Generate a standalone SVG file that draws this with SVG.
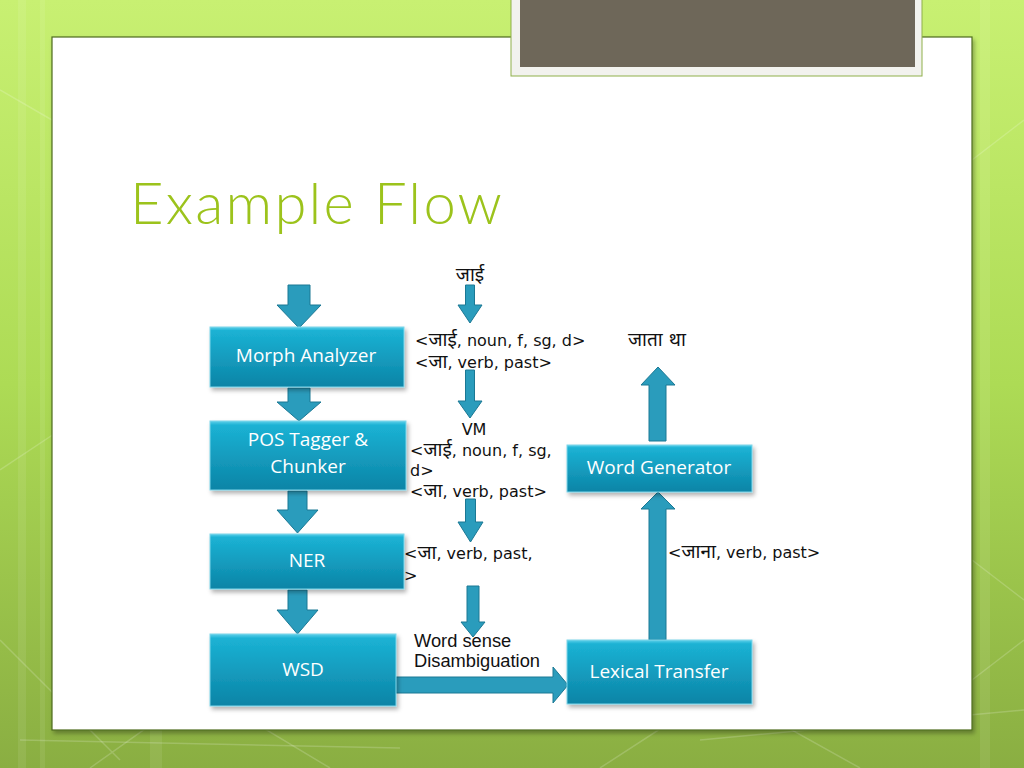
<svg xmlns="http://www.w3.org/2000/svg" width="1024" height="768" viewBox="0 0 1024 768">
<defs>
<linearGradient id="bg" x1="0" y1="0" x2="0" y2="1">
<stop offset="0" stop-color="#c8f072"/>
<stop offset="0.5" stop-color="#addb55"/>
<stop offset="1" stop-color="#8aae42"/>
</linearGradient>
<linearGradient id="box" x1="0" y1="0" x2="0" y2="1">
<stop offset="0" stop-color="#5fd0ea"/>
<stop offset="0.06" stop-color="#1bb2d4"/>
<stop offset="1" stop-color="#0c84a6"/>
</linearGradient>
<filter id="sh" x="-10%" y="-10%" width="130%" height="140%">
<feDropShadow dx="2" dy="3" stdDeviation="2" flood-color="#000" flood-opacity="0.3"/>
</filter>
<style>
.box{fill:url(#box);stroke:#7fd6ea;stroke-width:1;filter:url(#sh)}
.lbl{font-family:"Open Sans","Noto Sans",sans-serif;font-size:19px;fill:#ffffff;text-anchor:middle}
.arr{fill:#2a9cbc;stroke:#1b7894;stroke-width:1}
.t{font-family:"DejaVu Sans","Noto Sans Devanagari","Noto Sans",sans-serif;font-size:16px;fill:#111}
.d{font-size:19px}
.t2{font-family:"Liberation Sans","Noto Sans",sans-serif;font-size:18.3px;fill:#111}
.bgl{stroke:#ffffff;stroke-opacity:0.18;stroke-width:1.5;fill:none}
</style>
</defs>
<rect x="0" y="0" width="1024" height="768" fill="url(#bg)"/>
<g class="bgl">
<path d="M0 470 L60 430 M0 640 L120 760 M90 768 L200 690 L330 768 M600 768 L720 690 L860 768 M972 160 L1024 120 M972 560 L1024 600 M972 680 L1024 640 M0 90 L52 120"/>
<path d="M700 740 L1024 710 M20 740 L400 748"/>
</g>
<g id="stripes" fill="#ffffff" fill-opacity="0.08">
<rect x="18" y="0" width="8" height="768"/>
<rect x="40" y="0" width="5" height="768"/>
<rect x="150" y="730" width="12" height="38"/>
<rect x="980" y="0" width="10" height="768"/>
</g>
<rect x="52" y="37" width="920" height="693" fill="#ffffff" stroke="#4d6b1c" stroke-width="1.2" filter="url(#sh)"/>
<g id="tab">
<rect x="511" y="-2" width="411" height="78" fill="#f2f2ee" stroke="#8fb04a" stroke-width="1"/>
<rect x="520" y="-2" width="395" height="69" fill="#6e6759"/>
</g>
<text x="130" y="224" font-family="Lato,'Open Sans',sans-serif" font-weight="300" font-size="58" letter-spacing="2.2" fill="#9cc31c">Example Flow</text>

<g id="connectors">
<path class="arr" d="M288 285 H310 V305 H321 L299 328 L277 305 H288 Z"/>
<path class="arr" d="M288 388 H310 V402 H321 L299 421 L277 402 H288 Z"/>
<path class="arr" d="M288 491 H307 V510 H318 L297.5 533 L277 510 H288 Z"/>
<path class="arr" d="M288 590 H307 V610 H318 L297.5 634 L277 610 H288 Z"/>
<path class="arr" d="M465.5 285 H474.5 V305 H482 L470 323 L458 305 H465.5 Z"/>
<path class="arr" d="M465.5 370 H474.5 V401 H482 L470 418 L458 401 H465.5 Z"/>
<path class="arr" d="M465.5 499 H475.5 V522 H483 L470.5 542 L458 522 H465.5 Z"/>
<path class="arr" d="M467 586 H479 V622 H485 L473 637 L461 622 H467 Z"/>
<path class="arr" d="M396 677 H553 V667 L568 685 L553 703 V693 H396 Z"/>
<path class="arr" d="M649 441 V385 H641 L658 367 L675 385 H666 V441 Z"/>
<path class="arr" d="M649 640 V509 H641 L658 492 L675 509 H666 V640 Z"/>
</g>

<g id="morph"><rect class="box" x="210" y="327" width="194" height="60"/><text class="lbl" x="306" y="362">Morph Analyzer</text></g>
<g id="pos"><rect class="box" x="210" y="421" width="196" height="69"/><text class="lbl" x="308" y="446">POS Tagger &amp;</text><text class="lbl" x="308" y="473">Chunker</text></g>
<g id="ner"><rect class="box" x="210" y="534" width="194" height="55"/><text class="lbl" x="307" y="567">NER</text></g>
<g id="wsd"><rect class="box" x="210" y="634" width="186" height="72"/><text class="lbl" x="303" y="676">WSD</text></g>
<g id="wordgen"><rect class="box" x="567" y="445" width="185" height="47"/><text class="lbl" x="659" y="474">Word Generator</text></g>
<g id="lexical"><rect class="box" x="567" y="640" width="185" height="64"/><text class="lbl" x="659" y="678">Lexical Transfer</text></g>

<g id="labels">
<text class="t" x="470" y="281" text-anchor="middle"><tspan class="d" font-size="20">जाई</tspan></text>
<text class="t" x="415" y="346">&lt;<tspan class="d">जाई</tspan>, noun, f, sg, d&gt;</text>
<text class="t" x="415" y="368">&lt;<tspan class="d">जा</tspan>, verb, past&gt;</text>
<text class="t" x="628" y="346"><tspan class="d" font-size="20">जाता था</tspan></text>
<text class="t" x="474" y="435" text-anchor="middle">VM</text>
<text class="t" x="410" y="456">&lt;<tspan class="d">जाई</tspan>, noun, f, sg,</text>
<text class="t" x="410" y="476">d&gt;</text>
<text class="t" x="410" y="497">&lt;<tspan class="d">जा</tspan>, verb, past&gt;</text>
<text class="t" x="404" y="559">&lt;<tspan class="d">जा</tspan>, verb, past,</text>
<text class="t" x="404" y="581">&gt;</text>
<text class="t" x="668" y="558">&lt;<tspan class="d">जाना</tspan>, verb, past&gt;</text>
<text class="t2" x="414" y="647">Word sense</text>
<text class="t2" x="414" y="667">Disambiguation</text>
</g>
</svg>
